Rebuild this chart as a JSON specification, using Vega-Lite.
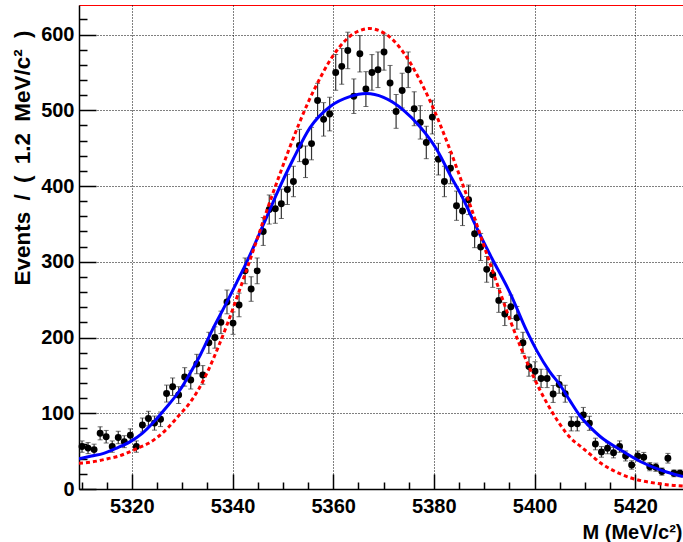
{
 "$schema": "https://vega.github.io/schema/vega-lite/v6.json",
 "width": 604, "height": 484,
 "autosize": {"type": "none"},
 "padding": {"left": 79, "top": 5, "right": 0, "bottom": 53},
 "background": "white",
 "config": {"view": {"stroke": "#ff0000", "strokeWidth": 1}, "font": "Liberation Sans"},
 "datasets": {
  "pts": [
   {"x":5310.1,"y":56,"e":7.5},{"x":5311.3,"y":54,"e":7.3},{"x":5312.5,"y":52,"e":7.2},{"x":5313.7,"y":73.5,"e":8.6},{"x":5314.9,"y":69,"e":8.3},
   {"x":5316.1,"y":56,"e":7.5},{"x":5317.3,"y":68,"e":8.2},{"x":5318.5,"y":62.5,"e":7.9},{"x":5319.7,"y":71,"e":8.4},{"x":5320.9,"y":56,"e":7.5},
   {"x":5322.1,"y":84.5,"e":9.2},{"x":5323.3,"y":93,"e":9.6},{"x":5324.5,"y":87,"e":9.3},{"x":5325.7,"y":92,"e":9.6},{"x":5326.9,"y":126,"e":11.2},
   {"x":5328.1,"y":135,"e":11.6},{"x":5329.3,"y":124,"e":11.1},{"x":5330.5,"y":148,"e":12.2},{"x":5331.7,"y":144,"e":12},{"x":5332.9,"y":165,"e":12.8},
   {"x":5334.1,"y":150.6,"e":12.3},{"x":5335.3,"y":193,"e":13.9},{"x":5336.5,"y":200,"e":14.1},{"x":5337.7,"y":220,"e":14.8},{"x":5338.9,"y":247,"e":15.7},
   {"x":5340.1,"y":219,"e":14.8},{"x":5341.3,"y":243,"e":15.6},{"x":5342.5,"y":288,"e":17},{"x":5343.7,"y":264,"e":16.2},{"x":5344.9,"y":288,"e":17},
   {"x":5346.1,"y":340,"e":18.4},{"x":5347.3,"y":369,"e":19.2},{"x":5348.5,"y":370,"e":19.2},{"x":5349.7,"y":376.5,"e":19.4},{"x":5350.9,"y":395.5,"e":19.9},
   {"x":5352.1,"y":406,"e":20.1},{"x":5353.3,"y":453.5,"e":21.3},{"x":5354.5,"y":432,"e":20.8},{"x":5355.7,"y":456,"e":21.4},{"x":5356.9,"y":513,"e":22.6},
   {"x":5358.1,"y":488,"e":22.1},{"x":5359.3,"y":495,"e":22.2},{"x":5360.5,"y":550,"e":23.5},{"x":5361.7,"y":558,"e":23.6},{"x":5362.9,"y":579,"e":24.1},
   {"x":5364.1,"y":518.6,"e":22.8},{"x":5365.3,"y":574.6,"e":24},{"x":5366.5,"y":528,"e":23},{"x":5367.7,"y":550,"e":23.5},{"x":5368.9,"y":553.5,"e":23.5},
   {"x":5370.1,"y":577,"e":24},{"x":5371.3,"y":536,"e":23.2},{"x":5372.5,"y":498.5,"e":22.3},{"x":5373.7,"y":526,"e":22.9},{"x":5374.9,"y":553.5,"e":23.5},
   {"x":5376.1,"y":502,"e":22.4},{"x":5377.3,"y":484,"e":22},{"x":5378.5,"y":457.5,"e":21.4},{"x":5379.7,"y":491,"e":22.2},{"x":5380.9,"y":435.5,"e":20.9},
   {"x":5382.1,"y":406,"e":20.1},{"x":5383.3,"y":423.6,"e":20.6},{"x":5384.5,"y":374,"e":19.3},{"x":5385.7,"y":367,"e":19.2},{"x":5386.9,"y":381.8,"e":19.5},
   {"x":5388.1,"y":337,"e":18.4},{"x":5389.3,"y":319.5,"e":17.9},{"x":5390.5,"y":290,"e":17},{"x":5391.7,"y":283,"e":16.8},{"x":5392.9,"y":249,"e":15.8},
   {"x":5394.1,"y":231,"e":15.2},{"x":5395.3,"y":240.5,"e":15.5},{"x":5396.5,"y":226,"e":15},{"x":5397.7,"y":193,"e":13.9},{"x":5398.9,"y":161.6,"e":12.7},
   {"x":5400.1,"y":155.5,"e":12.5},{"x":5401.3,"y":146,"e":12.1},{"x":5402.5,"y":146,"e":12.1},{"x":5403.7,"y":125.5,"e":11.2},{"x":5404.9,"y":138,"e":11.7},
   {"x":5406.1,"y":125.8,"e":11.2},{"x":5407.3,"y":86,"e":9.3},{"x":5408.5,"y":86,"e":9.3},{"x":5409.7,"y":97.8,"e":9.9},{"x":5410.9,"y":86.7,"e":9.3},
   {"x":5412.1,"y":59.4,"e":7.7},{"x":5413.3,"y":49,"e":7},{"x":5414.5,"y":53.8,"e":7.3},{"x":5415.7,"y":48,"e":6.9},{"x":5416.9,"y":56,"e":7.5},
   {"x":5418.1,"y":43.6,"e":6.6},{"x":5419.3,"y":31.7,"e":5.6},{"x":5420.5,"y":43.6,"e":6.6},{"x":5421.7,"y":41.8,"e":6.5},{"x":5422.9,"y":29.5,"e":5.4},
   {"x":5424.1,"y":28.7,"e":5.4},{"x":5425.3,"y":23,"e":4.8},{"x":5426.5,"y":40.6,"e":6.4},{"x":5427.7,"y":20.7,"e":4.5},{"x":5428.9,"y":20.7,"e":4.5}
  ],
  "blue": [
   {"x":5309.5,"y":40},{"x":5312,"y":43.5},{"x":5314.4,"y":47},{"x":5317,"y":54},{"x":5319.7,"y":62.5},{"x":5322,"y":73},{"x":5324.3,"y":88},
   {"x":5326.5,"y":105},{"x":5329.6,"y":131},{"x":5331.5,"y":152},{"x":5333.6,"y":177},{"x":5336,"y":210},{"x":5338.9,"y":247},{"x":5341,"y":275},
   {"x":5342.7,"y":298},{"x":5345.8,"y":344},{"x":5347.5,"y":370},{"x":5348.8,"y":390},{"x":5352.1,"y":436},{"x":5355.4,"y":477},{"x":5359.4,"y":505},
   {"x":5363.3,"y":518},{"x":5366.6,"y":522},{"x":5370,"y":517},{"x":5374,"y":500},{"x":5377.3,"y":478},{"x":5380.6,"y":448},{"x":5383.6,"y":410},
   {"x":5385.6,"y":386},{"x":5387.3,"y":362},{"x":5389,"y":338},{"x":5391.5,"y":305},{"x":5395.2,"y":258},{"x":5398.5,"y":208},{"x":5400.5,"y":182},
   {"x":5403,"y":155},{"x":5405.1,"y":137},{"x":5407,"y":117},{"x":5409.1,"y":96},{"x":5411,"y":82},{"x":5413.1,"y":69},{"x":5417.1,"y":51.5},
   {"x":5421.1,"y":36},{"x":5425.1,"y":25},{"x":5429.5,"y":16.5}
  ],
  "red": [
   {"x":5309.5,"y":34},{"x":5311.2,"y":35},{"x":5313.2,"y":37},{"x":5315.2,"y":40},{"x":5317.2,"y":43},{"x":5319.2,"y":48},{"x":5321.2,"y":54},
   {"x":5323.2,"y":60},{"x":5325.2,"y":69},{"x":5327.2,"y":81},{"x":5329.2,"y":96},{"x":5331.2,"y":111},{"x":5333.2,"y":131},{"x":5335.2,"y":157},
   {"x":5337.2,"y":188},{"x":5339.2,"y":222},{"x":5341.2,"y":259},{"x":5343.2,"y":297},{"x":5345.2,"y":336},{"x":5347.2,"y":375},{"x":5349.2,"y":412},
   {"x":5351.2,"y":448},{"x":5353.2,"y":482},{"x":5355.2,"y":513},{"x":5357.2,"y":540},{"x":5359.2,"y":564},{"x":5361.2,"y":583},{"x":5363.2,"y":597},
   {"x":5365.2,"y":605},{"x":5367.2,"y":608},{"x":5369.2,"y":605},{"x":5371.2,"y":597},{"x":5373.2,"y":583},{"x":5375.2,"y":564},{"x":5377.2,"y":540},
   {"x":5379.2,"y":513},{"x":5381.2,"y":482},{"x":5383.2,"y":448},{"x":5385.2,"y":412},{"x":5387.2,"y":375},{"x":5389.2,"y":336},{"x":5391.2,"y":297},
   {"x":5393.2,"y":259},{"x":5395.2,"y":222},{"x":5397.2,"y":188},{"x":5399.2,"y":157},{"x":5401.2,"y":129},{"x":5403.2,"y":105},{"x":5405.2,"y":84},
   {"x":5407.2,"y":67},{"x":5409.2,"y":56},{"x":5411.2,"y":45},{"x":5413.2,"y":34},{"x":5415.2,"y":26},{"x":5417.2,"y":19.5},{"x":5419.2,"y":14.5},
   {"x":5421.2,"y":11},{"x":5423.2,"y":8.5},{"x":5425.2,"y":6.5},{"x":5427.2,"y":5},{"x":5429.5,"y":4}
  ]
 },
 "layer": [
  {
   "data": {"name": "pts"},
   "mark": {"type": "errorbar", "ticks": {"size": 5, "color": "#333333"}, "rule": {"color": "#333333", "strokeWidth": 1.2}},
   "encoding": {
    "x": {"field": "x", "type": "quantitative", "scale": {"domain": [5309.5, 5429.5], "nice": false, "zero": false},
          "axis": {"values": [5310,5315,5320,5325,5330,5335,5340,5345,5350,5355,5360,5365,5370,5375,5380,5385,5390,5395,5400,5405,5410,5415,5420,5425],
                   "tickCount": 200,
                   "format": "d", "labelExpr": "datum.value % 20 === 0 ? datum.label : ''", "labelOverlap": false, "labelFlush": false, "labelBound": false,
                   "ticks": true, "tickSize": {"condition": {"test": "datum.value % 20 === 0", "value": -15}, "value": -7},
                   "tickWidth": 1.5, "tickColor": "black",
                   "grid": true, "gridColor": "black", "gridDash": [1,2], "gridWidth": 1,
                   "gridOpacity": {"condition": {"test": "datum.value % 20 === 0", "value": 1}, "value": 0},
                   "domain": true, "domainColor": "black", "domainWidth": 1.5,
                   "labelFont": "Liberation Sans", "labelFontWeight": "bold", "labelFontSize": 20, "labelColor": "black", "labelPadding": 22.5,
                   "title": "M (MeV/c²)", "titleFont": "Liberation Sans", "titleFontWeight": "bold", "titleFontSize": 20, "titleColor": "black",
                   "titleX": 603, "titleY": 43, "titleAlign": "right", "titleBaseline": "middle", "titleAngle": 0}},
    "y": {"field": "y", "type": "quantitative", "scale": {"domain": [0, 639], "nice": false},
          "axis": {"values": [0,20,40,60,80,100,120,140,160,180,200,220,240,260,280,300,320,340,360,380,400,420,440,460,480,500,520,540,560,580,600,620],
                   "tickCount": 200,
                   "labelExpr": "datum.value % 100 === 0 ? datum.label : ''", "labelOverlap": false, "labelFlush": false, "labelBound": false,
                   "ticks": true, "tickSize": {"condition": {"test": "datum.value % 100 === 0", "value": -17}, "value": -8},
                   "tickWidth": 1.5, "tickColor": "black",
                   "grid": true, "gridColor": "black", "gridDash": [1,2], "gridWidth": 1,
                   "gridOpacity": {"condition": {"test": "datum.value % 100 === 0 && datum.value > 0", "value": 1}, "value": 0},
                   "domain": true, "domainColor": "black", "domainWidth": 1.5,
                   "labelFont": "Liberation Sans", "labelFontWeight": "bold", "labelFontSize": 20, "labelColor": "black", "labelPadding": 22,
                   "title": "Events\u2002/\u2002(\u20021.2\u2002MeV/c²\u2002)", "titleFont": "Liberation Sans", "titleFontWeight": "bold", "titleFontSize": 22.5, "titleColor": "black",
                   "titleX": -57, "titleY": 25, "titleAlign": "right", "titleBaseline": "middle", "titleAngle": 270}},
    "yError": {"field": "e"}
   }
  },
  {
   "data": {"name": "pts"},
   "mark": {"type": "circle", "size": 48, "color": "black", "opacity": 1},
   "encoding": {
    "x": {"field": "x", "type": "quantitative"},
    "y": {"field": "y", "type": "quantitative"}
   }
  },
  {
   "data": {"name": "blue"},
   "mark": {"type": "line", "color": "#0000ff", "strokeWidth": 3, "interpolate": "monotone", "clip": true},
   "encoding": {
    "x": {"field": "x", "type": "quantitative"},
    "y": {"field": "y", "type": "quantitative"}
   }
  },
  {
   "data": {"name": "red"},
   "mark": {"type": "line", "color": "#ff0000", "strokeWidth": 3, "strokeDash": [4, 3], "interpolate": "monotone", "clip": true},
   "encoding": {
    "x": {"field": "x", "type": "quantitative"},
    "y": {"field": "y", "type": "quantitative"}
   }
  },
  {
   "mark": {"type": "rule", "color": "black", "strokeWidth": 1.5},
   "encoding": {"y": {"datum": 639, "type": "quantitative"}}
  }
 ]
}
